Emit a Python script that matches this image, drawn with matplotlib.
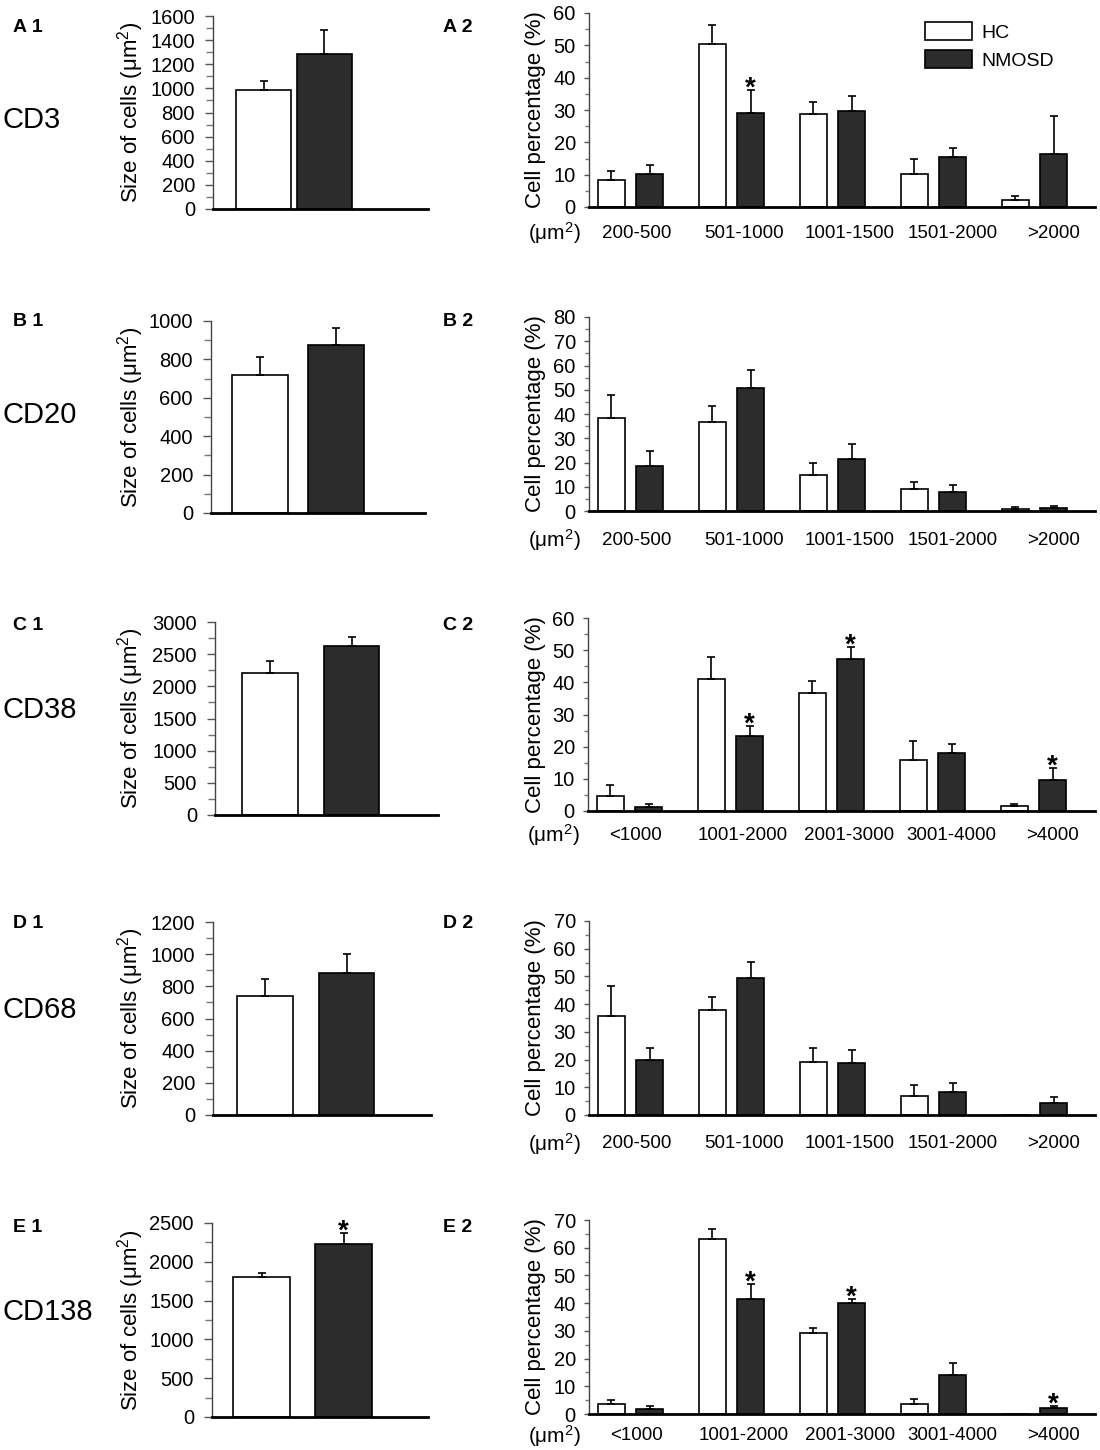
import matplotlib.pyplot as plt
from matplotlib.ticker import MultipleLocator
from matplotlib.transforms import ScaledTranslation

plt.rcParams['font.family'] = ['Liberation Sans', 'DejaVu Sans']
plt.rcParams['mathtext.default'] = 'regular'

# --- data ---
groups = ['HC', 'NMOSD']
markers = ['CD3', 'CD20', 'CD38', 'CD68', 'CD138']
bins_small = ['200-500', '501-1000', '1001-1500', '1501-2000', '>2000']
bins_large = ['<1000', '1001-2000', '2001-3000', '3001-4000', '>4000']

# mean cell size (um^2), [HC, NMOSD]
cd3_size = [985, 1285]
cd3_size_err = [75, 200]
cd20_size = [721, 877]
cd20_size_err = [92, 88]
cd38_size = [2200, 2630]
cd38_size_err = [200, 140]
cd68_size = [743, 882]
cd68_size_err = [100, 122]
cd138_size = [1810, 2230]
cd138_size_err = [50, 140]
size_sig = [False, False, False, False, True]

# cell percentage (%) per size bin
cd3_hc = [8.5, 50.5, 28.7, 10.1, 2.1]
cd3_hc_err = [2.6, 5.8, 3.8, 4.7, 1.2]
cd3_nmosd = [10.2, 29.2, 29.8, 15.5, 16.5]
cd3_nmosd_err = [2.7, 7.0, 4.6, 2.6, 11.7]
cd3_sig = [0, 1, 0, 0, 0]

cd20_hc = [38.3, 36.8, 14.8, 9.1, 0.7]
cd20_hc_err = [9.7, 6.4, 5.1, 3.0, 0.8]
cd20_nmosd = [18.5, 50.9, 21.3, 7.8, 1.2]
cd20_nmosd_err = [6.3, 7.1, 6.3, 2.9, 0.9]
cd20_sig = [0, 0, 0, 0, 0]

cd38_hc = [4.65, 40.9, 36.6, 15.7, 1.55]
cd38_hc_err = [3.35, 7.0, 3.8, 6.2, 0.65]
cd38_nmosd = [1.35, 23.4, 47.3, 18.0, 9.5]
cd38_nmosd_err = [0.75, 3.1, 3.7, 2.7, 3.8]
cd38_sig = [0, 1, 1, 0, 1]

cd68_hc = [35.8, 37.8, 19.2, 6.8, 0]
cd68_hc_err = [10.6, 4.9, 5.0, 3.9, 0]
cd68_nmosd = [19.8, 49.4, 18.7, 8.3, 4.4]
cd68_nmosd_err = [4.4, 5.8, 4.8, 3.1, 2.1]
cd68_sig = [0, 0, 0, 0, 0]

cd138_hc = [3.7, 63.2, 29.1, 3.6, 0]
cd138_hc_err = [1.2, 3.7, 1.9, 1.8, 0]
cd138_nmosd = [1.8, 41.4, 40.0, 14.2, 2.3]
cd138_nmosd_err = [1.2, 5.6, 1.4, 4.3, 0.7]
cd138_sig = [0, 1, 1, 0, 1]

# --- layout (pixels) ---
W, H = 1100, 1450
DARK = '#2c2c2c'
rows = [
    dict(tag='A', size=(cd3_size, cd3_size_err), ymax1=1600, step1=200,
         pct=(cd3_hc, cd3_hc_err, cd3_nmosd, cd3_nmosd_err, cd3_sig), bins=bins_small, ymax2=60,
         ax1=(213, 428, 209, 16), ax2=(589, 1095, 207, 13), xs=(0.94, 2.07), bw=1.03,
         drop=26, lab_y=27, mk_y=120),
    dict(tag='B', size=(cd20_size, cd20_size_err), ymax1=1000, step1=200,
         pct=(cd20_hc, cd20_hc_err, cd20_nmosd, cd20_nmosd_err, cd20_sig), bins=bins_small, ymax2=80,
         ax1=(211, 425, 513, 321), ax2=(589, 1095, 511, 317), xs=(0.91, 2.34), bw=1.04,
         drop=29, lab_y=322, mk_y=415),
    dict(tag='C', size=(cd38_size, cd38_size_err), ymax1=3000, step1=500,
         pct=(cd38_hc, cd38_hc_err, cd38_nmosd, cd38_nmosd_err, cd38_sig), bins=bins_large, ymax2=60,
         ax1=(215, 438, 815, 622), ax2=(588, 1095, 811, 618), xs=(0.99, 2.45), bw=1.0,
         drop=24, lab_y=625, mk_y=710),
    dict(tag='D', size=(cd68_size, cd68_size_err), ymax1=1200, step1=200,
         pct=(cd68_hc, cd68_hc_err, cd68_nmosd, cd68_nmosd_err, cd68_sig), bins=bins_small, ymax2=70,
         ax1=(213, 431, 1115, 922), ax2=(589, 1095, 1115, 921), xs=(0.95, 2.45), bw=1.02,
         drop=29, lab_y=923, mk_y=1010),
    dict(tag='E', size=(cd138_size, cd138_size_err), ymax1=2500, step1=500,
         pct=(cd138_hc, cd138_hc_err, cd138_nmosd, cd138_nmosd_err, cd138_sig), bins=bins_large, ymax2=70,
         ax1=(212, 428, 1417, 1223), ax2=(589, 1095, 1414, 1220), xs=(0.92, 2.44), bw=1.05,
         drop=22, lab_y=1228, mk_y=1312),
]
label_shift = [0.06, 0.12, 0.17, 0.19, 0.19]

fig = plt.figure(figsize=(W / 100, H / 100), dpi=100)


def px_axes(box):
    left, right, bottom, top = box
    return fig.add_axes([left / W, 1 - bottom / H, (right - left) / W, (bottom - top) / H])


def style(ax, ymax, major, ticklen, pad):
    ax.set_ylim(0, ymax)
    ax.yaxis.set_major_locator(MultipleLocator(major))
    ax.yaxis.set_minor_locator(MultipleLocator(major / 2))
    ax.spines['top'].set_visible(False)
    ax.spines['right'].set_visible(False)
    ax.spines['left'].set_linewidth(1.0)
    ax.spines['left'].set_color('#444444')
    ax.spines['bottom'].set_linewidth(2.0)
    ax.set_xticks([])
    ax.tick_params(axis='y', which='major', length=ticklen, width=1, color='#555555',
                   pad=pad, labelsize=14.5)
    ax.tick_params(axis='y', which='minor', length=ticklen * 0.8, width=1, color='#777777')


def star(ax, x, y):
    ax.annotate('*', (x, y), xytext=(0, -4), textcoords='offset points',
                ha='center', va='baseline', fontsize=20, fontweight='bold')


def bars(ax, xs, vals, errs, color, width):
    cont = ax.bar(xs, vals, width, color=color, edgecolor='black', linewidth=1.2, zorder=2)
    for x, v, e in zip(xs, vals, errs):
        if e > 0:
            ax.errorbar(x, v, yerr=[[0], [e]], fmt='none', ecolor='black',
                        elinewidth=1.2, capsize=3, capthick=1.2, zorder=3)
    return cont


for k, r in enumerate(rows):
    # left: mean size
    ax1 = px_axes(r['ax1'])
    ax1.set_xlim(0, 4)
    means, errs = r['size']
    for x, m, e, c in zip(r['xs'], means, errs, ['white', DARK]):
        bars(ax1, [x], [m], [e], c, r['bw'])
    if size_sig[k]:
        star(ax1, r['xs'][1], means[1] + errs[1])
    style(ax1, r['ymax1'], r['step1'], 6, 7)
    ax1.set_ylabel('Size of cells (μm$^2$)', fontsize=16)
    pos = ax1.get_position()
    ax1.yaxis.set_label_coords(146 / W, pos.y0 + pos.height / 2, transform=fig.transFigure)

    # right: percentage by size bin
    ax2 = px_axes(r['ax2'])
    hc, hc_err, nm, nm_err, sig = r['pct']
    n = len(r['bins'])
    ax2.set_xlim(-0.41, (r['ax2'][1] - r['ax2'][0]) / 101 - 0.41)
    xs_hc = [i - 0.19 for i in range(n)]
    xs_nm = [i + 0.19 for i in range(n)]
    h1 = bars(ax2, xs_hc, hc, hc_err, 'white', 0.27)
    h2 = bars(ax2, xs_nm, nm, nm_err, DARK, 0.27)
    for i in range(n):
        if sig[i]:
            star(ax2, xs_nm[i], nm[i] + nm_err[i])
    style(ax2, r['ymax2'], 10, 3.5, 6)
    ax2.set_ylabel('Cell percentage (%)', fontsize=16)
    pos = ax2.get_position()
    ax2.yaxis.set_label_coords(546 / W, pos.y0 + pos.height / 2, transform=fig.transFigure)

    drop = ScaledTranslation(0, -r['drop'] / 100, fig.dpi_scale_trans)
    for i, lab in enumerate(r['bins']):
        ax2.text(i + label_shift[i], 0, lab, transform=ax2.get_xaxis_transform() + drop,
                 ha='center', va='center', fontsize=13.5)
    ax2.text(0, 0, '(μm$^2$)', fontsize=15, ha='right', va='center',
             transform=ax2.transAxes + drop + ScaledTranslation(-8 / 100, 0, fig.dpi_scale_trans))

    # panel tags and marker names
    fig.text(13 / W, 1 - r['lab_y'] / H, r['tag'] + ' 1', fontsize=14, fontweight='bold', va='center')
    fig.text(443 / W, 1 - r['lab_y'] / H, r['tag'] + ' 2', fontsize=14, fontweight='bold', va='center')
    fig.text(2 / W, 1 - r['mk_y'] / H, markers[k], fontsize=21, va='center')

    if k == 0:
        ax2.legend([h1, h2], groups, loc='upper left', bbox_to_anchor=(925 / W, 1 - 22 / H),
                   bbox_transform=fig.transFigure, frameon=False, fontsize=14,
                   handlelength=2.4, handleheight=1.05, handletextpad=0.5,
                   labelspacing=0.45, borderpad=0, borderaxespad=0)

fig.savefig('out.png', dpi=100, facecolor='white')
